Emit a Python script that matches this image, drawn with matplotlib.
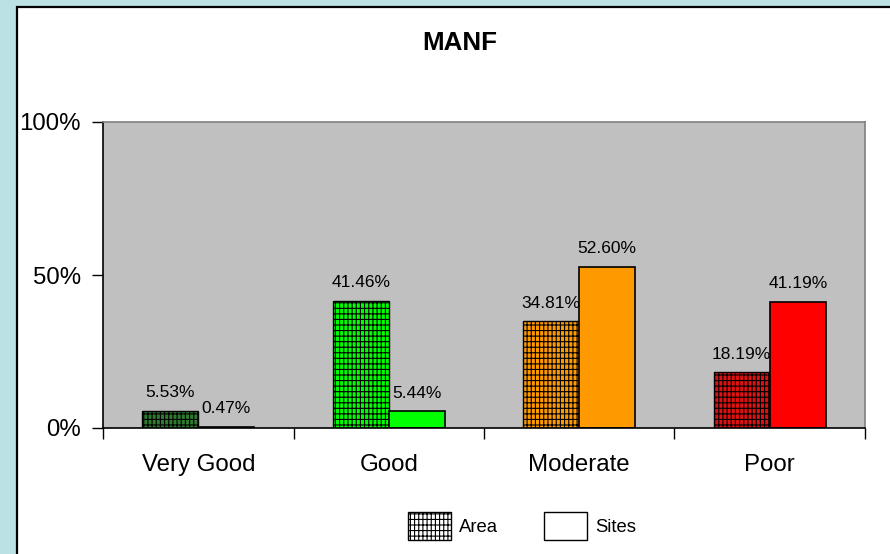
import matplotlib.pyplot as plt
from matplotlib.patches import Rectangle, Patch

categories = ['Very Good', 'Good', 'Moderate', 'Poor']
area = [5.53, 41.46, 34.81, 18.19]
sites = [0.47, 5.44, 52.60, 41.19]

area_colors = ['#2f7a2f', '#00ff00', '#ff9900', '#dd1111']
sites_colors = ['#0a2a0a', '#00ff00', '#ff9900', '#ff0000']

plt.rcParams['font.family'] = ['Liberation Sans', 'DejaVu Sans']
plt.rcParams['hatch.linewidth'] = 0.8

fig = plt.figure(figsize=(8.9, 5.54), dpi=100, facecolor='#bce1e5')

# white panel with black left/top border
panel = Rectangle((17 / 890, -0.05), 1.1, 1.05 - 7 / 554, transform=fig.transFigure,
                  facecolor='white', edgecolor='black', linewidth=1.6, zorder=-10)
fig.patches.append(panel)

ax = fig.add_axes([103 / 890, 126 / 554, 762 / 890, 306 / 554])
ax.set_facecolor('#c0c0c0')

w = 0.294
centers = [i + 0.5 for i in range(len(categories))]
for i, c in enumerate(centers):
    ax.bar(c - w / 2, area[i], w, color=area_colors[i], edgecolor='black',
           linewidth=1.0, hatch='||||---', zorder=2)
    ax.bar(c + w / 2, sites[i], w, color=sites_colors[i], edgecolor='black',
           linewidth=1.2, zorder=2)
    ax.text(c - w / 2, area[i] + 3.5, f'{area[i]:.2f}%', ha='center', va='bottom', fontsize=12.5)
    ax.text(c + w / 2, sites[i] + 3.5, f'{sites[i]:.2f}%', ha='center', va='bottom', fontsize=12.5)

ax.set_xlim(0, 4)
ax.set_ylim(0, 100)
ax.set_yticks([0, 50, 100])
ax.set_yticklabels(['0%', '50%', '100%'], fontsize=17.3)
ax.set_xticks([0, 1, 2, 3, 4])
ax.set_xticklabels([])
ax.set_xticks(centers, minor=True)
ax.set_xticklabels(categories, minor=True, fontsize=17.3)
ax.tick_params(axis='x', which='major', direction='out', length=8, width=1)
ax.tick_params(axis='x', which='minor', length=0, pad=19)
ax.tick_params(axis='y', direction='out', length=8, width=1, pad=8)

for s in ['left', 'bottom']:
    ax.spines[s].set_color('black')
    ax.spines[s].set_linewidth(1.2)
for s in ['top', 'right']:
    ax.spines[s].set_color('#808080')
    ax.spines[s].set_linewidth(1.2)

fig.text(460 / 890, 1 - 43 / 554, 'MANF', ha='center', va='center',
         fontsize=18.7, fontweight='bold')

handles = [Patch(facecolor='white', edgecolor='black', hatch='||||---', label='Area'),
           Patch(facecolor='white', edgecolor='black', label='Sites')]
fig.legend(handles=handles, loc='center', bbox_to_anchor=(522 / 890, 1 - 526 / 554),
           ncol=2, frameon=False, fontsize=13.3, handlelength=2.3, handleheight=1.9,
           handletextpad=0.45, columnspacing=2.5)

fig.savefig('out.png', dpi=100, facecolor=fig.get_facecolor())
